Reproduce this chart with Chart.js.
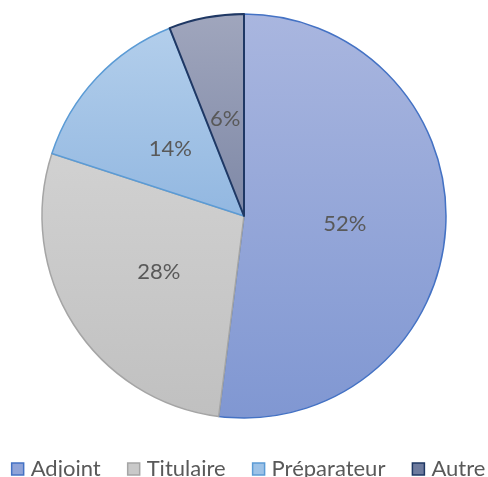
<!DOCTYPE html>
<html>
<head>
<meta charset="utf-8">
<script src="https://cdn.jsdelivr.net/npm/chart.js@4/dist/chart.umd.min.js"></script>
<style>
  html, body { margin: 0; padding: 0; background: #ffffff; }
  #wrap { width: 488px; height: 477px; position: relative; }
</style>
</head>
<body>
<div id="wrap"><canvas id="pieChart"></canvas></div>
<script>
const categories = ['Adjoint', 'Titulaire', 'Préparateur', 'Autre'];
const shares = [52, 28, 14, 6];

const topColors = ['#a9b6df', '#dadada', '#b5d0ec', '#a0a6bd'];
const bottomColors = ['#8097d2', '#c0c0c0', '#709fd5', '#5d6b90'];
const legendFills = ['#8fa3d8', '#c9c9c9', '#9dc2e7', '#6e7b9e'];
const borderColors = ['#4472c4', '#a5a5a5', '#5b9bd5', '#1f3864'];
const textColor = '#595959';
const fontFamily = 'Lato, "Open Sans", sans-serif';

function sliceGradient(context) {
    const chart = context.chart;
    const area = chart.chartArea;
    const i = context.dataIndex;
    if (!area) return topColors[i];
    const g = chart.ctx.createLinearGradient(0, area.top, 0, area.bottom);
    g.addColorStop(0, topColors[i]);
    g.addColorStop(1, bottomColors[i]);
    return g;
}

// percentage labels inside each slice, halfway out
const sliceLabels = {
    id: 'sliceLabels',
    afterDatasetsDraw(chart) {
        const ctx = chart.ctx;
        const meta = chart.getDatasetMeta(0);
        ctx.save();
        ctx.font = '22px ' + fontFamily;
        ctx.fillStyle = textColor;
        ctx.textAlign = 'center';
        ctx.textBaseline = 'middle';
        meta.data.forEach((arc, i) => {
            const p = arc.tooltipPosition();
            ctx.fillText(shares[i] + '%', p.x, p.y + 2);
        });
        ctx.restore();
    }
};

// one-row legend under the pie, Excel style (small square, tight gap)
const bottomLegend = {
    id: 'bottomLegend',
    afterDraw(chart) {
        const ctx = chart.ctx;
        const box = 12, gap = 7, itemGap = 27;
        const baseline = 476;
        ctx.save();
        ctx.font = '22px ' + fontFamily;
        const widths = categories.map(c => ctx.measureText(c).width);
        let total = widths.reduce((a, w) => a + box + gap + w, 0) + itemGap * (categories.length - 1);
        let x = 248.5 - total / 2;
        categories.forEach((c, i) => {
            ctx.fillStyle = legendFills[i];
            ctx.fillRect(x, baseline - 13, box, box);
            ctx.strokeStyle = borderColors[i];
            ctx.lineWidth = 1.5;
            ctx.strokeRect(x, baseline - 13, box, box);
            ctx.fillStyle = textColor;
            ctx.textBaseline = 'alphabetic';
            ctx.fillText(c, x + box + gap, baseline);
            x += box + gap + widths[i] + itemGap;
        });
        ctx.restore();
    }
};

new Chart(document.getElementById('pieChart'), {
    type: 'pie',
    data: {
        labels: categories,
        datasets: [{
            data: shares,
            backgroundColor: sliceGradient,
            borderColor: borderColors,
            borderWidth: [1.5, 1.5, 1.5, 2],
            borderJoinStyle: 'round'
        }]
    },
    options: {
        responsive: true,
        maintainAspectRatio: false,
        animation: false,
        layout: { padding: { top: 13, bottom: 58 } },
        plugins: {
            tooltip: { enabled: false },
            legend: { display: false }
        }
    },
    plugins: [sliceLabels, bottomLegend]
});
</script>
</body>
</html>
